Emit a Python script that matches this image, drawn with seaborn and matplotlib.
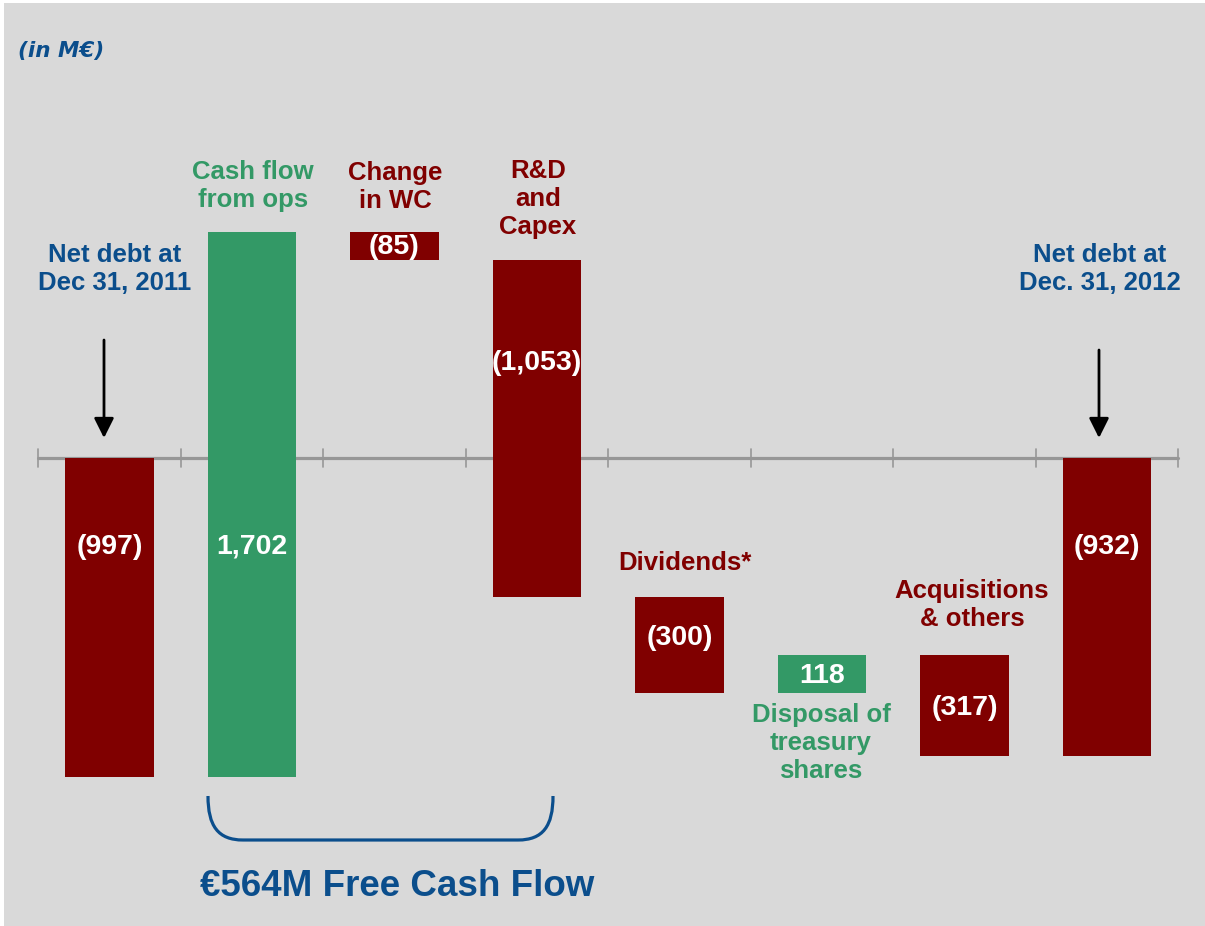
import numpy as np
import pandas as pd
import seaborn as sns
import matplotlib.pyplot as plt
from matplotlib.patches import Rectangle, PathPatch
from matplotlib.path import Path

# datos del puente de deuda neta (M€)
categories = ['Net debt 2011', 'Cash flow from ops', 'Change in WC', 'R&D and Capex',
              'Dividends', 'Disposal of treasury shares', 'Acquisitions & others', 'Net debt 2012']
changes = [-997, 1702, -85, -1053, -300, 118, -317, -932]
is_total = [True, False, False, False, False, False, False, True]
titles = ['Net debt at\nDec 31, 2011', 'Cash flow\nfrom ops', 'Change\nin WC', 'R&D\nand\nCapex',
          'Dividends*', 'Disposal of\ntreasury\nshares', 'Acquisitions\n& others', 'Net debt at\nDec. 31, 2012']
free_cash_flow = 564

RED = '#800000'
GREEN = '#339966'
BLUE = '#0B4E8C'
GREY_BG = '#D9D9D9'

# inicio / fin de cada barra
starts, ends = [], []
running = 0
for val, tot in zip(changes, is_total):
    if tot:
        s, e = 0, val
    else:
        s, e = running, running + val
    starts.append(s)
    ends.append(e)
    running = e

df = pd.DataFrame({'cat': categories, 'change': changes})
palette = {c: (GREEN if v > 0 else RED) for c, v in zip(categories, changes)}

# conversion pixel -> datos
def px2x(px):
    return (px - 109.5) / 142.5

def py2y(py):
    return (458 - py) / 0.32

sns.set_style('white')
plt.rcParams['font.family'] = ['Liberation Sans', 'DejaVu Sans']

fig = plt.figure(figsize=(12.05, 9.26), dpi=100, facecolor='white')
fig.add_artist(Rectangle((4 / 1205, 0), 1, 923 / 926, transform=fig.transFigure,
                         facecolor=GREY_BG, edgecolor='none', zorder=0))
ax = fig.add_axes([0, 0, 1, 1])
ax.set_facecolor('none')

sns.barplot(data=df, x='cat', y='change', hue='cat', palette=palette, saturation=1,
            width=0.62, legend=False, linewidth=0, ax=ax, zorder=3)

# convertir barras a cascada
for p, s, e in zip(ax.patches, starts, ends):
    p.set_y(min(s, e))
    p.set_height(abs(e - s))

ax.set_xlim(px2x(0), px2x(1205))
ax.set_ylim(py2y(926), py2y(0))
ax.axis('off')

# eje horizontal con marcas
n = len(categories)
ax.plot([-0.5, n - 0.5], [0, 0], color='#979797', lw=2.3, zorder=2)
for xt in np.arange(-0.5, n, 1.0):
    ax.plot([xt, xt], [py2y(449), py2y(467)], color='#979797', lw=1.2, zorder=2)

# etiquetas de categorias
title_pos = [(115, 269), (253, 186), (395, 187), (538, 199),
             (685, 563), (821, 743), (972, 605), (1100, 269)]
title_col = [BLUE, GREEN, RED, RED, RED, GREEN, RED, BLUE]
for t, (px, py), c in zip(titles, title_pos, title_col):
    ax.text(px2x(px), py2y(py), t, ha='center', va='center', color=c,
            fontsize=18.5, fontweight='bold', linespacing=1.2)

# valores
value_py = [547, 546, 247, 363, 638, 676, 708, 547]
for i, (v, py) in enumerate(zip(changes, value_py)):
    lab = f'({abs(v):,})' if v < 0 else f'{v:,}'
    ax.text(i, py2y(py), lab, ha='center', va='center', color='white',
            fontsize=20.5, fontweight='bold', zorder=5)

# flechas
for px, py0 in [(104, 340), (1099, 350)]:
    ax.annotate('', xy=(px2x(px), py2y(438)), xytext=(px2x(px), py2y(py0)),
                arrowprops=dict(arrowstyle='-|>,head_width=0.3,head_length=0.6',
                                mutation_scale=20, lw=2, color='black',
                                shrinkA=0, shrinkB=0))

# llave de free cash flow
pts = [(208, 796), (208, 826), (218, 840), (243, 840), (518, 840),
       (543, 840), (553, 826), (553, 796)]
verts = [(px2x(a), py2y(b)) for a, b in pts]
codes = [Path.MOVETO, Path.CURVE4, Path.CURVE4, Path.CURVE4, Path.LINETO,
         Path.CURVE4, Path.CURVE4, Path.CURVE4]
ax.add_patch(PathPatch(Path(verts, codes), facecolor='none', edgecolor=BLUE, lw=2.3))

ax.text(px2x(397), py2y(887), f'€{free_cash_flow}M Free Cash Flow', ha='center', va='center',
        color=BLUE, fontsize=26.5, fontweight='bold')

ax.text(px2x(18), py2y(51), '(in M€)', ha='left', va='center', color=BLUE,
        fontsize=15.5, fontweight='bold', fontstyle='italic', family='DejaVu Sans')

fig.savefig('out.png', dpi=100, facecolor=fig.get_facecolor())
